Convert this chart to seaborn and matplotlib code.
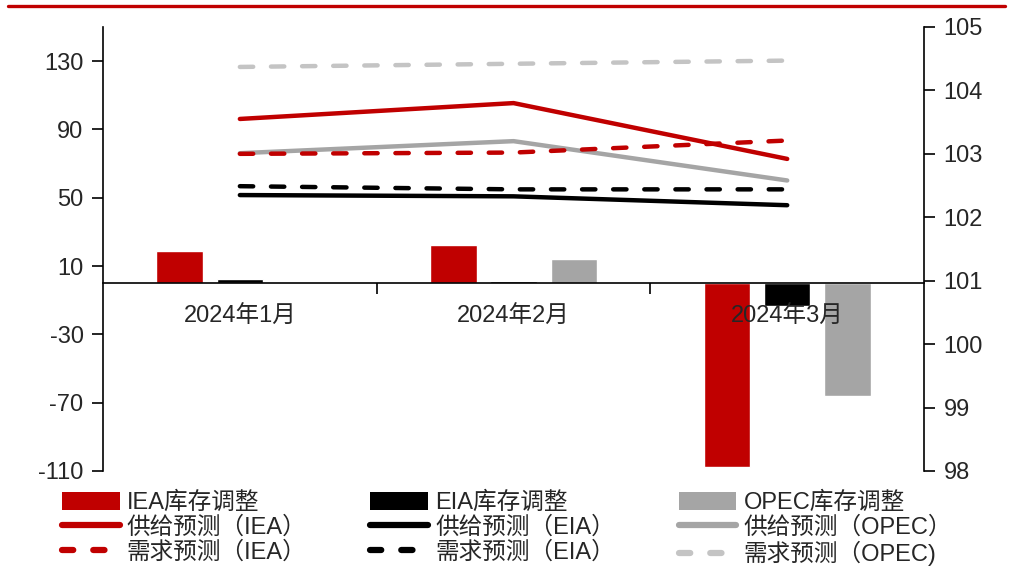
import numpy as np
import pandas as pd
import matplotlib
matplotlib.use('Agg')
import matplotlib.pyplot as plt
from matplotlib.patches import Patch
from matplotlib.lines import Line2D
import seaborn as sns

sns.set_style('ticks')
plt.rcParams['font.family'] = ['Liberation Sans', 'Noto Sans CJK SC']
plt.rcParams['axes.unicode_minus'] = False

# 数据
months = ['2024年1月', '2024年2月', '2024年3月']
sources = ['IEA', 'EIA', 'OPEC']

iea_stock = [19, 22.6, -107.5]
eia_stock = [2.7, 1.0, -13.5]
opec_stock = [0, 14.2, -66]

iea_supply = [103.55, 103.80, 102.92]
iea_demand = [103.00, 103.02, 103.21]
eia_supply = [102.35, 102.33, 102.19]
eia_demand = [102.49, 102.44, 102.44]
opec_supply = [103.01, 103.20, 102.58]
opec_demand = [104.37, 104.42, 104.47]

left_ticks = [-110, -70, -30, 10, 50, 90, 130]
right_ticks = [98, 99, 100, 101, 102, 103, 104, 105]

RED = '#C00000'
BLACK = '#000000'
GRAY = '#A5A5A5'
LIGHT = '#C4C4C4'

df = pd.DataFrame({
    'month': months * 3,
    'source': [s for s in sources for _ in months],
    'value': iea_stock + eia_stock + opec_stock,
})

fig = plt.figure(figsize=(10.11, 5.68), dpi=100)
ax = fig.add_axes([0.1019, 0.1708, 0.8121, 0.7817])

sns.barplot(data=df, x='month', y='value', hue='source', order=months,
            hue_order=sources, palette=[RED, BLACK, GRAY], width=0.66,
            gap=0.23, errorbar=None, legend=False, ax=ax, saturation=1)
# 刻度标签画在柱子上面
ax.set_axisbelow(False)

ax2 = ax.twinx()
xpos = np.arange(len(months))
lw = 3.2
solid = dict(linewidth=lw, solid_capstyle='round')
dashed = dict(linewidth=lw, linestyle=(0, (3, 4)), dash_capstyle='round')
sns.lineplot(x=xpos, y=opec_demand, color=LIGHT, ax=ax2, **dashed)
sns.lineplot(x=xpos, y=opec_supply, color=GRAY, ax=ax2, **solid)
sns.lineplot(x=xpos, y=eia_supply, color=BLACK, ax=ax2, **solid)
sns.lineplot(x=xpos, y=eia_demand, color=BLACK, ax=ax2, **dashed)
sns.lineplot(x=xpos, y=iea_supply, color=RED, ax=ax2, **solid)
sns.lineplot(x=xpos, y=iea_demand, color=RED, ax=ax2, **dashed)

# 左轴
ax.set_xlim(-0.5, 2.5)
ax.set_ylim(-110, 150)
ax.set_yticks(left_ticks)
ax.set_xlabel('')
ax.set_ylabel('')
ax.spines['top'].set_visible(False)
ax.spines['right'].set_visible(False)
ax.spines['bottom'].set_position(('data', 0))
for s in ['left', 'bottom']:
    ax.spines[s].set_color('black')
    ax.spines[s].set_linewidth(1.2)
ax.tick_params(axis='y', direction='out', length=8, width=1.2, labelsize=17,
               color='black', pad=6)
ax.tick_params(axis='x', which='major', length=0, labelsize=17, pad=16)
ax.set_xticks([0.5, 1.5], minor=True)
ax.tick_params(axis='x', which='minor', direction='out', length=8, width=1.2,
               color='black')

# 右轴
ax2.set_ylim(98, 105)
ax2.set_yticks(right_ticks)
for s in ['top', 'left', 'bottom']:
    ax2.spines[s].set_visible(False)
ax2.spines['right'].set_color('black')
ax2.spines['right'].set_linewidth(1.2)
ax2.tick_params(axis='y', direction='out', length=8, width=1.2, labelsize=17,
                color='black', pad=6)
ax2.set_ylabel('')

# 图例
dash_leg = (0, (1.8, 3.2))
handles = [
    Patch(facecolor=RED, edgecolor='none'),
    Line2D([], [], color=RED, linewidth=4.5, solid_capstyle='round'),
    Line2D([], [], color=RED, linewidth=4.5, linestyle=dash_leg, dash_capstyle='round'),
    Patch(facecolor=BLACK, edgecolor='none'),
    Line2D([], [], color=BLACK, linewidth=4.5, solid_capstyle='round'),
    Line2D([], [], color=BLACK, linewidth=4.5, linestyle=dash_leg, dash_capstyle='round'),
    Patch(facecolor=GRAY, edgecolor='none'),
    Line2D([], [], color=GRAY, linewidth=4.5, solid_capstyle='round'),
    Line2D([], [], color=LIGHT, linewidth=4.5, linestyle=dash_leg, dash_capstyle='round'),
]
labels = [
    'IEA库存调整', '供给预测（IEA）', '需求预测（IEA）',
    'EIA库存调整', '供给预测（EIA）', '需求预测（EIA）',
    'OPEC库存调整', '供给预测（OPEC）', '需求预测（OPEC)',
]
fig.legend(handles, labels, ncol=3, loc='upper left',
           bbox_to_anchor=(0.061, 0.134), frameon=False, fontsize=17,
           handlelength=2.45, handleheight=0.75, handletextpad=0.3,
           columnspacing=2.7, labelspacing=0.09, borderpad=0,
           borderaxespad=0)

# 顶部红线
fig.add_artist(Line2D([0.008, 0.994], [0.99, 0.99], transform=fig.transFigure,
                      color=RED, linewidth=2.4))

fig.savefig('out.png', dpi=100)
